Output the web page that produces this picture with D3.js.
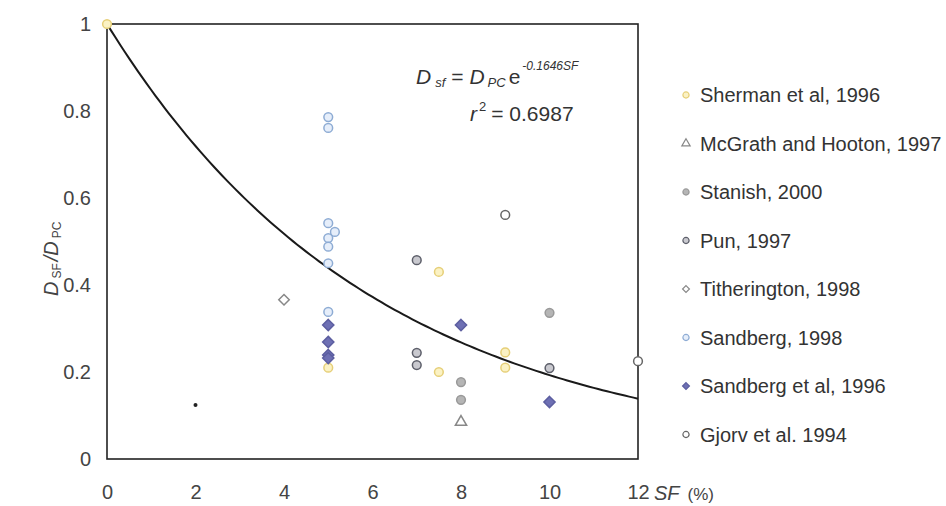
<!DOCTYPE html>
<meta charset="utf-8">
<style>
 body { margin: 0; background: white; }
 svg { display: block; font-family: 'Liberation Sans', Arial, sans-serif; }
 .tick text { fill: #444; font-size: 20px; }
 .legend text { fill: #333; font-size: 20px; }
</style>
<svg width="946" height="506"></svg>
<script src="https://d3js.org/d3.v7.min.js"></script>
<script>
 // fitted curve D_sf = D_pc * exp(k * SF)
 var fitK = -0.1646;
 var xTicks = [0, 2, 4, 6, 8, 10, 12];
 var yTicks = [0, 0.2, 0.4, 0.6, 0.8, 1];

 // points, [SF %, D_sf/D_pc]
 var sherman = [[0, 1.0], [5, 0.21], [7.5, 0.43], [7.5, 0.2], [9, 0.245], [9, 0.21]];
 var mcgrath = [[8, 0.085]];
 var stanish = [[8, 0.177], [8, 0.136], [10, 0.336]];
 var pun = [[7, 0.457], [7, 0.244], [7, 0.216], [10, 0.209]];
 var titherington = [[4, 0.366]];
 var sandberg98 = [[5, 0.786], [5, 0.761], [5, 0.542], [5.15, 0.522], [5, 0.508], [5, 0.488], [5, 0.45], [5, 0.338]];
 var sandberg96 = [[5, 0.308], [5, 0.269], [5, 0.239], [5, 0.232], [8, 0.308], [10, 0.131]];
 var gjorv = [[9, 0.561], [12, 0.225]];
 var stray = [[2, 0.124]];

 var diamond = d3.symbolDiamond2 || d3.symbolDiamond;
 var series = [
     {name: 'Sherman et al, 1996', data: sherman, sym: d3.symbolCircle, size: 60, fill: '#fbf2c4', stroke: '#e6cf78'},
     {name: 'McGrath and Hooton, 1997', data: mcgrath, sym: d3.symbolTriangle, size: 55, fill: '#fff', stroke: '#888'},
     {name: 'Stanish, 2000', data: stanish, sym: d3.symbolCircle, size: 60, fill: '#b5b5b5', stroke: '#999'},
     {name: 'Pun, 1997', data: pun, sym: d3.symbolCircle, size: 60, fill: '#c9c9cf', stroke: '#5d5f6a'},
     {name: 'Titherington, 1998', data: titherington, sym: diamond, size: 70, fill: '#fff', stroke: '#888'},
     {name: 'Sandberg, 1998', data: sandberg98, sym: d3.symbolCircle, size: 60, fill: '#e6eefa', stroke: '#8eacd4'},
     {name: 'Sandberg et al, 1996', data: sandberg96, sym: diamond, size: 80, fill: '#6e70b4', stroke: '#5c5ea0'},
     {name: 'Gjorv et al. 1994', data: gjorv, sym: d3.symbolCircle, size: 60, fill: '#fff', stroke: '#666'}
 ];

 var svg = d3.select('svg');
 var x = d3.scaleLinear().domain([0, 12]).range([107, 638]);
 var y = d3.scaleLinear().domain([0, 1]).range([459, 24]);

 // frame
 svg.append('rect')
    .attr('x', x(0)).attr('y', y(1))
    .attr('width', x(12) - x(0)).attr('height', y(0) - y(1))
    .attr('fill', 'none').attr('stroke', '#222').attr('stroke-width', 1.6);

 svg.append('g')
    .attr('transform', 'translate(0,' + y(0) + ')')
    .call(d3.axisBottom(x).tickValues(xTicks).tickSize(0).tickPadding(26).tickFormat(d3.format('d')));
 svg.append('g')
    .attr('transform', 'translate(' + x(0) + ',0)')
    .call(d3.axisLeft(y).tickValues(yTicks).tickSize(0).tickPadding(16).tickFormat(function(d) { return d === 0 || d === 1 ? d : d.toFixed(1); }));
 svg.selectAll('.domain').remove();

 // axis titles
 var xt = svg.append('text').attr('x', 654).attr('y', 500).attr('fill', '#444').style('font-size', '20px');
 xt.append('tspan').attr('font-style', 'italic').text('SF');
 xt.append('tspan').attr('dx', 8).style('font-size', '17px').text('(%)');

 var yt = svg.append('text').attr('transform', 'translate(58,296) rotate(-90)').attr('fill', '#444').style('font-size', '20px');
 yt.append('tspan').attr('font-style', 'italic').text('D');
 yt.append('tspan').attr('dx', 3).attr('dy', 3).style('font-size', '12px').text('SF');
 yt.append('tspan').attr('dx', 2).attr('dy', -3).attr('font-style', 'italic').text('/D');
 yt.append('tspan').attr('dx', 3).attr('dy', 3).style('font-size', '12px').text('PC');

 // fitted curve
 var curve = d3.range(0, 12.01, 0.1).map(function(s) { return [s, Math.exp(fitK * s)]; });
 svg.append('path')
    .datum(curve)
    .attr('d', d3.line().x(function(d) { return x(d[0]); }).y(function(d) { return y(d[1]); }))
    .attr('fill', 'none').attr('stroke', '#1a1a1a').attr('stroke-width', 2);

 // points
 series.forEach(function(s) {
     svg.append('g').selectAll('path')
        .data(s.data)
        .enter().append('path')
        .attr('transform', function(d) { return 'translate(' + x(d[0]) + ',' + y(d[1]) + ')'; })
        .attr('d', d3.symbol().type(s.sym).size(s.size))
        .attr('fill', s.fill).attr('stroke', s.stroke).attr('stroke-width', 1.5);
 });
 svg.append('g').selectAll('circle')
    .data(stray)
    .enter().append('circle')
    .attr('cx', function(d) { return x(d[0]); })
    .attr('cy', function(d) { return y(d[1]); })
    .attr('r', 2).attr('fill', '#222');

 // equation
 var eq = svg.append('text').attr('x', 416).attr('y', 84).attr('fill', '#333').style('font-size', '21px');
 eq.append('tspan').attr('font-style', 'italic').text('D');
 eq.append('tspan').attr('dx', 4).attr('dy', 3).attr('font-style', 'italic').style('font-size', '13px').text('sf');
 eq.append('tspan').attr('dx', 6).attr('dy', -3).text('= ');
 eq.append('tspan').attr('font-style', 'italic').text('D');
 eq.append('tspan').attr('dx', 3).attr('dy', 3).attr('font-style', 'italic').style('font-size', '13px').text('PC');
 eq.append('tspan').attr('dx', 3).attr('dy', -3).text('e');
 eq.append('tspan').attr('dx', 2).attr('dy', -14).attr('font-style', 'italic').style('font-size', '12px').text('-0.1646SF');

 var r2 = svg.append('text').attr('x', 470).attr('y', 121).attr('fill', '#333').style('font-size', '21px');
 r2.append('tspan').attr('font-style', 'italic').text('r');
 r2.append('tspan').attr('dx', 2).attr('dy', -10).style('font-size', '13px').text('2');
 r2.append('tspan').attr('dx', 5).attr('dy', 10).text('= 0.6987');

 // legend
 var legend = svg.append('g').attr('class', 'legend');
 var row = legend.selectAll('g')
     .data(series)
     .enter().append('g')
     .attr('transform', function(d, i) { return 'translate(686,' + (95 + i * 48.5) + ')'; });
 row.append('path')
    .attr('d', function(d) { return d3.symbol().type(d.sym).size(30)(); })
    .attr('fill', function(d) { return d.fill; })
    .attr('stroke', function(d) { return d.stroke; })
    .attr('stroke-width', 1.2);
 row.append('text')
    .attr('x', 14).attr('dy', '0.35em')
    .text(function(d) { return d.name; });
</script>
